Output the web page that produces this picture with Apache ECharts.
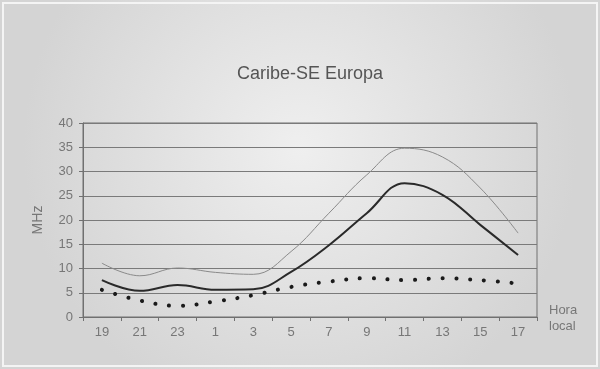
<!DOCTYPE html>
<html><head><meta charset="utf-8">
<script src="https://cdn.jsdelivr.net/npm/echarts@6/dist/echarts.min.js"></script>
<style>html,body{margin:0;padding:0;}#c{width:600px;height:369px;}</style>
</head><body><div id="c"></div>
<script>
const categories = ['19','21','23','1','3','5','7','9','11','13','15','17'];
const upper = [11.1, 8.5, 10.1, 9.2, 8.8, 13.5, 21.4, 29.3, 34.8, 33.0, 26.6, 17.3];
const middle = [7.6, 5.4, 6.6, 5.6, 5.7, 9.3, 14.8, 21.4, 27.6, 25.2, 19.0, 12.8];
const lower = [5.6, 3.4, 2.3, 3.2, 4.5, 6.2, 7.3, 8.0, 7.6, 8.0, 7.6, 6.9];
const yTicks = [0, 5, 10, 15, 20, 25, 30, 35, 40];

const chart = echarts.init(document.getElementById('c'));
chart.setOption({
  backgroundColor: {
    type: 'radial', x: 0.5, y: 0.4, r: 0.75,
    colorStops: [{offset: 0, color: '#efefef'}, {offset: 1, color: '#d4d4d4'}]
  },
  animation: false,
  title: {
    text: 'Caribe-SE Europa', left: 305, textAlign: 'center', top: 60,
    textStyle: {fontFamily: 'Liberation Sans', fontWeight: 'normal', fontSize: 18, color: '#555'}
  },
  graphic: [{
    type: 'rect', shape: {x: 3, y: 3, width: 594, height: 363},
    style: {fill: 'none', stroke: '#f4f4f4', lineWidth: 2}
  }, {
    type: 'text', left: 549, top: 302,
    style: {text: 'Hora\nlocal', fontFamily: 'Liberation Sans', fontSize: 13, lineHeight: 16, fill: '#777'}
  }],
  grid: {left: 83, right: 63, top: 123, bottom: 52, show: true, borderColor: '#707070', borderWidth: 1, backgroundColor: 'transparent'},
  xAxis: {
    type: 'category', data: categories, boundaryGap: true,
    axisLine: {lineStyle: {color: '#707070'}},
    axisTick: {show: true, lineStyle: {color: '#707070'}, length: 4},
    axisLabel: {color: '#777', fontFamily: 'Liberation Sans', fontSize: 13, margin: 9}
  },
  yAxis: {
    type: 'value', min: yTicks[0], max: yTicks[yTicks.length - 1], interval: 5,
    name: 'MHz', nameLocation: 'middle', nameGap: 38, nameRotate: 90,
    nameTextStyle: {color: '#777', fontFamily: 'Liberation Sans', fontSize: 14},
    axisLine: {show: true, lineStyle: {color: '#707070'}},
    axisTick: {show: true, lineStyle: {color: '#707070'}, length: 4},
    axisLabel: {color: '#777', fontFamily: 'Liberation Sans', fontSize: 13, margin: 10},
    splitLine: {lineStyle: {color: '#7a7a7a', width: 1}}
  },
  series: [
    {type: 'line', data: upper, smooth: 0.4, symbol: 'none', lineStyle: {color: '#8a8a8a', width: 1}},
    {type: 'line', data: middle, smooth: 0.4, symbol: 'none', lineStyle: {color: '#2a2a2a', width: 2}},
    {type: 'line', data: lower, smooth: 0.4, symbol: 'none', lineStyle: {color: '#1a1a1a', width: 4, type: [0.1, 13.7], cap: 'round'}}
  ]
});
</script></body></html>
